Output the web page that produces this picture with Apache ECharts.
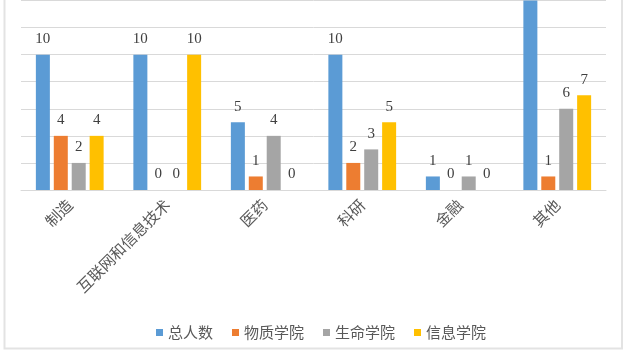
<!DOCTYPE html>
<html><head><meta charset="utf-8">
<script src="https://cdn.jsdelivr.net/npm/echarts@6/dist/echarts.min.js"></script>
<style>html,body{margin:0;padding:0;background:#fff}#c{width:627px;height:352px}</style>
</head><body><div id="c"></div>
<script>
const categories = ['制造', '互联网和信息技术', '医药', '科研', '金融', '其他'];
const seriesNames = ['总人数', '物质学院', '生命学院', '信息学院'];
const totalPeople = [10, 10, 5, 10, 1, 14];
const materials = [4, 0, 1, 2, 0, 1];
const life = [2, 0, 4, 3, 1, 6];
const info = [4, 10, 0, 5, 0, 7];
const colors = ['#5B9BD5', '#ED7D31', '#A5A5A5', '#FFC000'];

const chart = echarts.init(document.getElementById('c'), null, {renderer: 'canvas'});
const dataSets = [totalPeople, materials, life, info];
chart.setOption({
  animation: false,
  backgroundColor: '#fff',
  color: colors,
  graphic: [{
    type: 'rect', silent: true, z: 100,
    shape: {x: 4.5, y: -5, width: 617.5, height: 353.5},
    style: {fill: 'none', stroke: '#E3E3E3', lineWidth: 2}
  }],
  grid: {left: 21, right: 21, top: 0.5, bottom: 162, containLabel: false},
  legend: {
    data: seriesNames, top: 320, left: 151,
    icon: 'rect', itemWidth: 7, itemHeight: 7, itemGap: 19,
    textStyle: {color: '#595959', fontSize: 15, fontFamily: 'Noto Sans CJK SC'}
  },
  xAxis: {
    type: 'category', data: categories,
    axisLine: {show: true, lineStyle: {color: '#D9D9D9', width: 1}},
    axisTick: {show: false},
    axisLabel: {rotate: 45, margin: 12, color: '#595959', fontSize: 15.5, fontFamily: 'Noto Sans CJK SC', interval: 0}
  },
  yAxis: {
    type: 'value', min: 0, max: 14, interval: 2,
    axisLabel: {show: false}, axisLine: {show: false}, axisTick: {show: false},
    splitLine: {lineStyle: {color: '#D9D9D9', width: 1}}
  },
  series: dataSets.map((d, i) => ({
    name: seriesNames[i], type: 'bar', data: d,
    barWidth: 14, barGap: '28%',
    itemStyle: {color: colors[i]},
    label: {show: true, position: 'top', distance: 8, color: '#404040', fontSize: 15, fontFamily: 'Liberation Serif'}
  }))
});
</script></body></html>
